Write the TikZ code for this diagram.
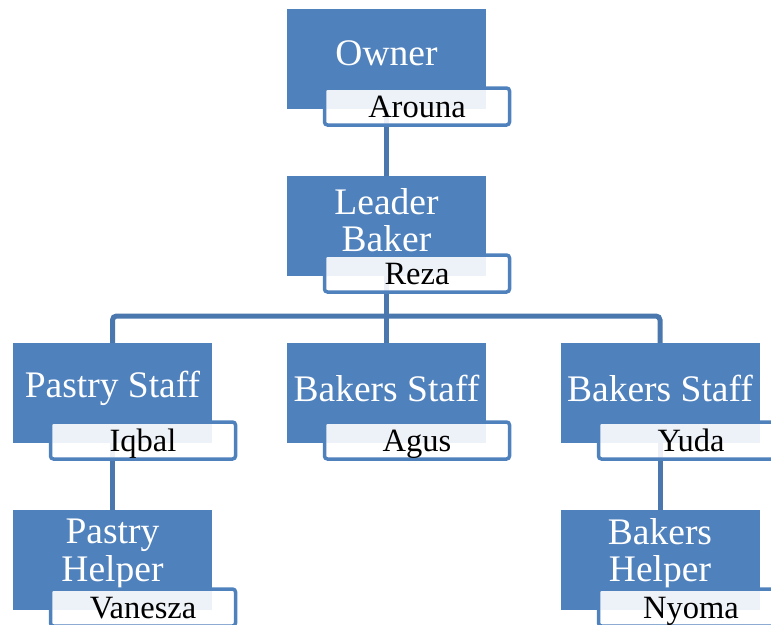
\documentclass[tikz,border=0pt]{standalone}
\usepackage{fontspec}
\setmainfont{Liberation Serif}
\usetikzlibrary{backgrounds}
\definecolor{boxblue}{HTML}{4F81BD}
\definecolor{lineblue}{HTML}{4A78AE}
\begin{document}
\begin{tikzpicture}[x=1pt,y=-1pt,
  bluebox/.style={fill=boxblue, draw=none, minimum width=199pt, minimum height=100pt, inner sep=0pt, outer sep=0pt},
  titletext/.style={text=white, font=\fontsize{37.5}{37.5}\selectfont, align=center, inner sep=0pt},
  namebox/.style={draw=boxblue, line width=3.5pt, rounded corners=3pt, fill=white, fill opacity=0.9, text opacity=1, minimum width=185pt, minimum height=37pt, inner sep=0pt, font=\fontsize{32.5}{33}\selectfont, text height=21pt, text depth=0pt},
  conn/.style={draw=lineblue, line width=5pt}]
\useasboundingbox (0,0) rectangle (771,624);
\clip (0,0) rectangle (771,624);

% blue boxes
\node[bluebox] (owner) at (386.5,59) {};
\node[bluebox] (leader) at (386.5,226) {};
\node[bluebox] (pastry) at (112.5,393) {};
\node[bluebox] (bakers) at (386.5,393) {};
\node[bluebox] (bakersr) at (660,393) {};
\node[bluebox] (phelper) at (112.5,560) {};
\node[bluebox] (bhelper) at (660,560) {};

% titles
\node[titletext] (towner) at ([yshift=6pt]owner.center) {Owner};
\node[titletext] (tleader) at ([yshift=6pt]leader.center) {Leader\\Baker};
\node[titletext] (tpastry) at ([yshift=5pt]pastry.center) {Pastry Staff};
\node[titletext] (tbakers) at ([yshift=5pt]bakers.center) {Bakers Staff};
\node[titletext] (tbakersr) at ([yshift=5pt]bakersr.center) {Bakers Staff};
\node[titletext] (tphelper) at ([yshift=6pt]phelper.center) {Pastry\\Helper};
\node[titletext] (tbhelper) at ([yshift=6pt]bhelper.center) {Bakers\\Helper};

% name boxes
\node[namebox] (nowner) at (417,106.5) {Arouna};
\node[namebox] (nleader) at (417,273.5) {Reza};
\node[namebox] (npastry) at (143,440.5) {Iqbal};
\node[namebox] (nbakers) at (417,440.5) {Agus};
\node[namebox] (nbakersr) at (691,440.5) {Yuda};
\node[namebox] (nphelper) at (143,607.5) {Vanesza};
\node[namebox] (nbhelper) at (691,607.5) {Nyoma};

\coordinate (bus) at (386.5,316);

\begin{scope}[on background layer]
\draw[conn] (owner.south) -- (leader.north);
\draw[conn] (leader.south) -- (bakers.north);
\draw[conn, rounded corners=4pt] (pastry.north) |- (bus) -| (bakersr.north);
\draw[conn] (pastry.south) -- (phelper.north);
\draw[conn] (bakersr.south) -- (bhelper.north);
\end{scope}
\end{tikzpicture}
\end{document}
